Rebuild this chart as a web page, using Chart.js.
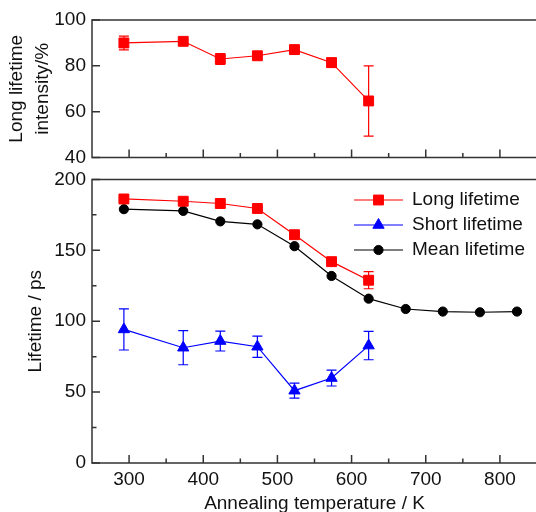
<!DOCTYPE html>
<html><head><meta charset="utf-8">
<script src="https://cdn.jsdelivr.net/npm/chart.js@4/dist/chart.umd.min.js"></script>
<style>
html,body{margin:0;padding:0;background:#fff;overflow:hidden;width:536px;height:512px}
#wrap{position:relative;width:536px;height:512px;overflow:hidden}
canvas{position:absolute;left:0}
</style></head><body>
<div id="wrap">
<canvas id="topc" width="545" height="175" style="top:0px"></canvas>
<canvas id="botc" width="545" height="350" style="top:162px"></canvas>
</div>
<script>
// ---- data ----
const temps = [293, 373, 423, 473, 523, 573, 623, 673, 723, 773, 823];
const intensity = [90.0, 90.7, 83.0, 84.4, 87.1, 81.4, 64.7];
const intensityErr = [3.0, 0.8, 2.4, 1.0, 1.0, 2.0, 15.3];
const longLifetime = [186.2, 184.6, 183.0, 179.5, 161.0, 142.0, 128.9];
const longErr = [1.0, 1.0, 1.0, 1.0, 1.0, 1.0, 6.0];
const shortLifetime = [94.2, 81.3, 86.0, 82.0, 51.0, 59.9, 82.8];
const shortErr = [14.5, 12.0, 7.0, 7.5, 5.3, 5.6, 10.0];
const meanLifetime = [179.0, 177.8, 170.4, 168.3, 152.9, 131.9, 115.9, 108.6, 106.8, 106.3, 106.8];
const seriesLabels = ['Long lifetime', 'Short lifetime', 'Mean lifetime'];

// ---- tick labels ----
const xMajorTicks = [300, 400, 500, 600, 700, 800];
const xMinorTicks = [350, 450, 550, 650, 750];
const topYTicks = [40, 60, 80, 100];
const botYTicks = [0, 50, 100, 150, 200];
const botYMinor = [25, 75, 125, 175];

const FONT = "'Liberation Sans', Arial, Helvetica, sans-serif";
const AXIS_COLOR = '#333333';
const TXT = '#111111';

const pts = (ys) => ys.map((v, i) => ({x: temps[i], y: v}));

const framePlugin = {
  id: 'frame',
  afterDraw(chart, args, o) {
    const {ctx, chartArea: {left, right, top, bottom}} = chart;
    const xs = chart.scales.x, ys = chart.scales.y;
    ctx.save();
    ctx.strokeStyle = AXIS_COLOR; ctx.lineWidth = 1.5; ctx.lineCap = 'square';
    ctx.beginPath();
    ctx.moveTo(left, top); ctx.lineTo(right, top);
    ctx.moveTo(left, top); ctx.lineTo(left, bottom);
    ctx.moveTo(left, bottom); ctx.lineTo(right, bottom);
    ctx.moveTo(right, top); ctx.lineTo(right, bottom);
    ctx.stroke();
    ctx.lineCap = 'butt';
    ctx.beginPath();
    o.xMajor.forEach(v => { const p = xs.getPixelForValue(v); ctx.moveTo(p, bottom); ctx.lineTo(p, bottom - 8); });
    o.xMinor.forEach(v => { const p = xs.getPixelForValue(v); ctx.moveTo(p, bottom); ctx.lineTo(p, bottom - 4.5); });
    o.yMajor.forEach(v => { const p = ys.getPixelForValue(v); ctx.moveTo(left, p); ctx.lineTo(left + 8, p); });
    o.yMinor.forEach(v => { const p = ys.getPixelForValue(v); ctx.moveTo(left, p); ctx.lineTo(left + 4.5, p); });
    ctx.stroke();
    ctx.restore();
  }
};

const errPlugin = {
  id: 'errbars',
  beforeDatasetsDraw(chart) {
    const ctx = chart.ctx, xs = chart.scales.x, ys = chart.scales.y;
    chart.data.datasets.forEach(ds => {
      if (!ds.errors) return;
      ctx.save();
      ctx.strokeStyle = ds.borderColor; ctx.lineWidth = 1.2;
      ds.data.forEach((pt, j) => {
        const e = ds.errors[j]; if (!e) return;
        const x = xs.getPixelForValue(pt.x);
        const y1 = ys.getPixelForValue(pt.y + e), y2 = ys.getPixelForValue(pt.y - e);
        ctx.beginPath();
        ctx.moveTo(x, y1); ctx.lineTo(x, y2);
        ctx.moveTo(x - 5, y1); ctx.lineTo(x + 5, y1);
        ctx.moveTo(x - 5, y2); ctx.lineTo(x + 5, y2);
        ctx.stroke();
      });
      ctx.restore();
    });
  }
};

const legendPlugin = {
  id: 'customLegend',
  afterDraw(chart, args, o) {
    if (!o || !o.show) return;
    const ctx = chart.ctx;
    chart.data.datasets.forEach((ds, i) => {
      const y = o.y0 + i * o.dy;
      ctx.save();
      ctx.strokeStyle = ds.borderColor; ctx.lineWidth = 1.2;
      ctx.beginPath(); ctx.moveTo(o.x0, y); ctx.lineTo(o.x1, y); ctx.stroke();
      ctx.fillStyle = ds.pointBackgroundColor; ctx.strokeStyle = ds.pointBorderColor; ctx.lineWidth = 1;
      Chart.helpers.drawPoint(ctx, {pointStyle: ds.pointStyle, radius: ds.pointRadius, borderWidth: 1, rotation: 0}, (o.x0 + o.x1) / 2, y);
      ctx.fillStyle = TXT; ctx.font = '19px ' + FONT; ctx.textBaseline = 'middle'; ctx.textAlign = 'left';
      ctx.fillText(ds.label, o.tx, y);
      ctx.restore();
    });
  }
};

function xScale(showLabels) {
  return {
    type: 'linear', min: 250, max: 850, display: true,
    afterBuildTicks: s => { s.ticks = xMajorTicks.map(v => ({value: v})); },
    grid: {display: false, drawTicks: false, tickLength: 0},
    border: {display: false},
    ticks: {display: showLabels, font: {family: FONT, size: 19}, color: TXT, padding: 5, maxRotation: 0, autoSkip: false},
    title: {display: showLabels, text: 'Annealing temperature / K', color: TXT, font: {family: FONT, size: 19, lineHeight: 1.0}, padding: {top: 0, bottom: -1}},
    afterFit: s => { s.height = showLabels ? 49 : 0; }
  };
}
function yScale(min, max, ticks, title, titlePad) {
  return {
    type: 'linear', min, max,
    afterBuildTicks: s => { s.ticks = ticks.map(v => ({value: v})); },
    grid: {display: false, drawTicks: false, tickLength: 0},
    border: {display: false},
    ticks: {font: {family: FONT, size: 19}, color: TXT, padding: 6, autoSkip: false},
    title: {display: true, text: title, color: TXT, font: {family: FONT, size: 19, lineHeight: 1.38}, padding: {top: titlePad, bottom: 0}},
    afterFit: s => { s.width = 92; }
  };
}

Chart.defaults.font.family = FONT;

new Chart(document.getElementById('topc'), {
  type: 'line',
  data: {datasets: [{
    label: 'Long lifetime intensity', data: pts(intensity), errors: intensityErr,
    borderColor: '#FF0000', backgroundColor: '#FF0000', borderWidth: 1.2,
    pointStyle: 'rect', pointRadius: 7, pointBorderWidth: 1,
    pointBackgroundColor: '#FF0000', pointBorderColor: '#FF0000', tension: 0
  }]},
  options: {
    responsive: false, animation: false, devicePixelRatio: 1,
    layout: {padding: {top: 20, bottom: 15, left: 0, right: 6.8}},
    plugins: {legend: {display: false}, tooltip: {enabled: false},
      frame: {xMajor: xMajorTicks, xMinor: xMinorTicks, yMajor: topYTicks, yMinor: []}},
    scales: {x: xScale(false), y: yScale(40, 100, topYTicks, ['Long lifetime', 'intensity/%'], 3.9)}
  },
  plugins: [errPlugin, framePlugin]
});

new Chart(document.getElementById('botc'), {
  type: 'line',
  data: {datasets: [
    {label: seriesLabels[0], data: pts(longLifetime), errors: longErr,
     borderColor: '#FF0000', backgroundColor: '#FF0000', borderWidth: 1.2,
     pointStyle: 'rect', pointRadius: 7, pointBorderWidth: 1,
     pointBackgroundColor: '#FF0000', pointBorderColor: '#FF0000', tension: 0},
    {label: seriesLabels[1], data: pts(shortLifetime), errors: shortErr,
     borderColor: '#0000FF', backgroundColor: '#0000FF', borderWidth: 1.2,
     pointStyle: 'triangle', pointRadius: 6.5, pointBorderWidth: 1,
     pointBackgroundColor: '#0000FF', pointBorderColor: '#0000FF', tension: 0},
    {label: seriesLabels[2], data: pts(meanLifetime),
     borderColor: '#000000', backgroundColor: '#000000', borderWidth: 1.2,
     pointStyle: 'circle', pointRadius: 4.6, pointBorderWidth: 1,
     pointBackgroundColor: '#000000', pointBorderColor: '#000000', tension: 0}
  ]},
  options: {
    responsive: false, animation: false, devicePixelRatio: 1,
    layout: {padding: {top: 15, bottom: 0, left: 0, right: 6.8}},
    plugins: {legend: {display: false}, tooltip: {enabled: false},
      frame: {xMajor: xMajorTicks, xMinor: xMinorTicks, yMajor: botYTicks, yMinor: botYMinor},
      customLegend: {show: true, x0: 354, x1: 403, tx: 412, y0: 38, dy: 25}},
    scales: {x: xScale(true), y: yScale(0, 200, botYTicks, 'Lifetime / ps', 22.6)}
  },
  plugins: [errPlugin, framePlugin, legendPlugin]
});
</script>
</body></html>
